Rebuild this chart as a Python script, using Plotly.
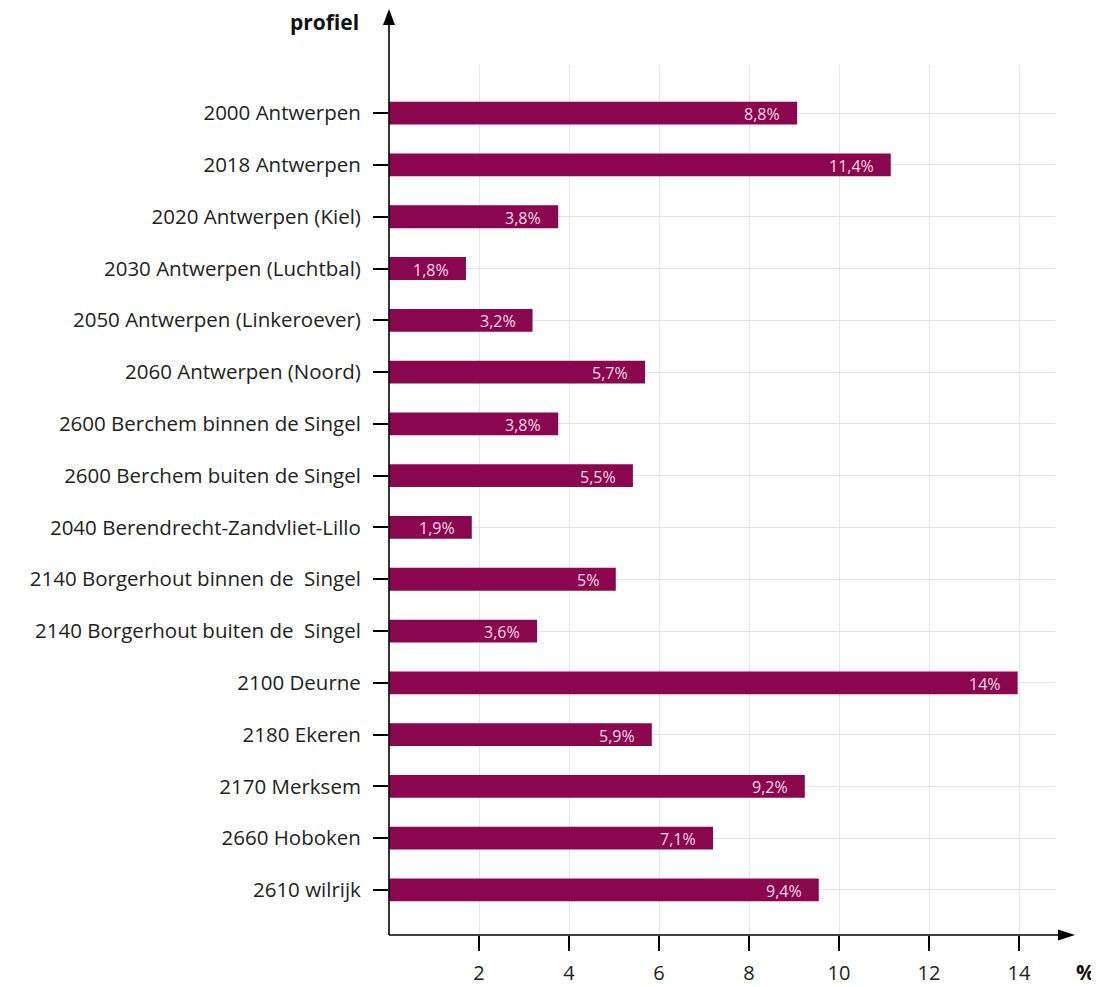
import plotly.graph_objects as go

categories = [
    "2000 Antwerpen",
    "2018 Antwerpen",
    "2020 Antwerpen (Kiel)",
    "2030 Antwerpen (Luchtbal)",
    "2050 Antwerpen (Linkeroever)",
    "2060 Antwerpen (Noord)",
    "2600 Berchem binnen de Singel",
    "2600 Berchem buiten de Singel",
    "2040 Berendrecht-Zandvliet-Lillo",
    "2140 Borgerhout binnen de \u00a0Singel",
    "2140 Borgerhout buiten de \u00a0Singel",
    "2100 Deurne",
    "2180 Ekeren",
    "2170 Merksem",
    "2660 Hoboken",
    "2610 wilrijk",
]
# bar lengths as drawn
values = [9.07, 11.15, 3.76, 1.71, 3.19, 5.69, 3.76, 5.42, 1.84, 5.04, 3.29, 13.97, 5.84, 9.24, 7.2, 9.55]
# value labels as printed
value_labels = ["8,8%", "11,4%", "3,8%", "1,8%", "3,2%", "5,7%", "3,8%", "5,5%", "1,9%", "5%",
                "3,6%", "14%", "5,9%", "9,2%", "7,1%", "9,4%"]
x_ticks = [2, 4, 6, 8, 10, 12, 14]

# page has an 8px body margin
O = 8
W, H = 1099 - O, 987 - O
L, T = 389 - O, 65 - O
R = W - (1055 - O)
B = H - (935 - O)
PW, PH = W - L - R, H - T - B


def px(x):
    return (x - O - L) / PW


def py(y):
    return (H - B - (y - O)) / PH


BAR = "#8a064e"
FONT = "Open Sans, Noto Sans, sans-serif"

fig = go.Figure()
fig.add_trace(go.Bar(
    x=values, y=categories, orientation="h",
    marker=dict(color=BAR, line=dict(width=0)),
    width=0.44, hoverinfo="skip",
))

annotations = []
for c, v, t in zip(categories, values, value_labels):
    annotations.append(dict(
        x=v, y=c, xref="x", yref="y", text=t, showarrow=False,
        xanchor="right", yanchor="middle", xshift=-15, yshift=-1,
        font=dict(family=FONT, size=16, color="#f4d9e7"),
    ))

annotations.append(dict(
    x=px(361), y=py(22), xref="paper", yref="paper", text="<b>profiel</b>",
    showarrow=False, xanchor="right", yanchor="middle",
    font=dict(family=FONT, size=21, color="#111"),
))
annotations.append(dict(
    x=px(1085), y=py(972), xref="paper", yref="paper", text="<b>%</b>",
    showarrow=False, xanchor="center", yanchor="middle",
    font=dict(family=FONT, size=21, color="#111"),
))

shapes = [
    dict(type="line", xref="paper", yref="paper", x0=px(389), x1=px(389),
         y0=py(935), y1=py(24), line=dict(color="black", width=1.6), layer="above"),
    dict(type="path", xref="paper", yref="paper",
         path=f"M {px(383)} {py(25)} L {px(395)} {py(25)} L {px(389)} {py(9)} Z",
         fillcolor="black", line=dict(color="black", width=0)),
    dict(type="line", xref="paper", yref="paper", x0=px(389), x1=px(1060),
         y0=py(935), y1=py(935), line=dict(color="black", width=1.6), layer="above"),
    dict(type="path", xref="paper", yref="paper",
         path=f"M {px(1058)} {py(929.5)} L {px(1058)} {py(940.5)} L {px(1075)} {py(935)} Z",
         fillcolor="black", line=dict(color="black", width=0)),
]

fig.update_layout(
    width=W, height=H,
    margin=dict(l=L, r=R, t=T, b=B, autoexpand=False),
    paper_bgcolor="white", plot_bgcolor="white",
    showlegend=False,
    font=dict(family=FONT, size=20, color="#222"),
    annotations=annotations,
    shapes=shapes,
)
fig.update_xaxes(
    range=[0, 14.8], tickvals=x_ticks, ticktext=[str(v) for v in x_ticks],
    showgrid=True, gridcolor="#e6e6e6", gridwidth=1,
    zeroline=False, showline=False,
    ticks="outside", ticklen=15, tickwidth=1.6, tickcolor="black",
    ticklabelstandoff=5,
    tickfont=dict(family=FONT, size=20, color="#222"),
)
fig.update_yaxes(
    categoryorder="array", categoryarray=categories,
    range=[15.87, -0.93],
    showgrid=True, gridcolor="#e6e6e6", gridwidth=1,
    zeroline=False, showline=False,
    ticks="outside", ticklen=15, tickwidth=1.6, tickcolor="black",
    ticklabelstandoff=8,
    tickfont=dict(family=FONT, size=20.5, color="#222"),
)

fig.write_html("out.html")
